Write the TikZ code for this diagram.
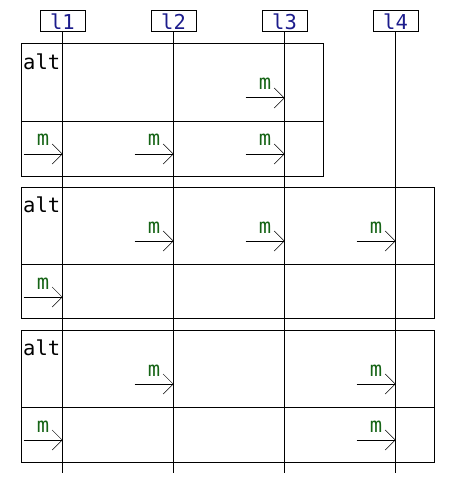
\documentclass[tikz,border=0pt]{standalone}
\usepackage{fontspec}
\setmonofont{DejaVu Sans Mono}
\usetikzlibrary{arrows.meta,positioning,calc}

\definecolor{lifeblue}{RGB}{28,28,140}
\definecolor{msggreen}{RGB}{22,100,22}

% message into a lifeline: #1 lifeline, #2 height, #3 name
\newcommand{\msgto}[3]{%
  \coordinate (#3-e) at (#1 |- 0,#2);
  \coordinate (#3-s) at ($(#3-e)+(-39,0)$);
  \draw[msg] (#3-s) -- (#3-e)
    node[pos=0.5, anchor=base, yshift=8pt, mlabel] {m};
}

\begin{document}
\begin{tikzpicture}[
  x=1pt, y=-1pt,
  every node/.style={font=\ttfamily\fontsize{20.5}{22}\selectfont},
  head/.style={rectangle, draw, line width=1pt, minimum width=45pt,
               minimum height=21pt, inner sep=0pt, text=lifeblue},
  life/.style={line width=1pt},
  frame/.style={line width=1pt},
  msg/.style={line width=1pt,
              -{Straight Barb[length=10pt, width=20pt, line width=0.5pt]}},
  mlabel/.style={text=msggreen, inner sep=0pt},
  kind/.style={anchor=base west, inner sep=0pt}
]
  \useasboundingbox (0,0) rectangle (455,484);

  % frames
  \draw[frame] (21,44) rectangle (323,176);
  \draw[frame] (21,121.5) -- (323,121.5);
  \node[kind] (alt1) at (23,70) {alt};

  \draw[frame] (21,187) rectangle (434,318);
  \draw[frame] (21,264) -- (434,264);
  \node[kind] (alt2) at (23,212) {alt};

  \draw[frame] (21,330) rectangle (434,462);
  \draw[frame] (21,407) -- (434,407);
  \node[kind] (alt3) at (23,355) {alt};

  % lifelines
  \node[head] (l1) at (62.5,21.5) {l1};
  \node[head] (l2) at (173.5,21.5) {l2};
  \node[head] (l3) at (284.5,21.5) {l3};
  \node[head] (l4) at (395.5,21.5) {l4};
  \foreach \l in {l1,l2,l3,l4} {
    \coordinate (\l-end) at (\l |- 0,473);
    \draw[life] (\l.south) -- (\l-end);
  }

  % messages
  \msgto{l3}{98}{a}
  \msgto{l1}{154}{b}
  \msgto{l2}{154}{c}
  \msgto{l3}{154}{d}

  \msgto{l2}{241}{e}
  \msgto{l3}{241}{f}
  \msgto{l4}{241}{g}
  \msgto{l1}{297}{h}

  \msgto{l2}{384}{i}
  \msgto{l4}{384}{j}
  \msgto{l1}{440}{k}
  \msgto{l4}{440}{n}
\end{tikzpicture}
\end{document}
